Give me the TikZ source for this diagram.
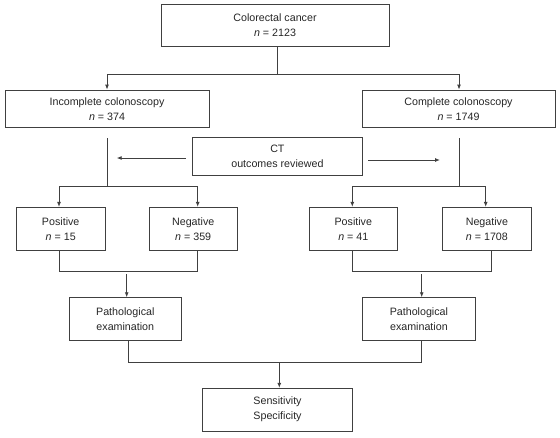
\documentclass[tikz,border=0pt]{standalone}
\usepackage{fontspec}
\setmainfont{Liberation Sans}
\usetikzlibrary{arrows.meta}
\begin{document}
\begin{tikzpicture}[x=1pt,y=-1pt,
  box/.style={draw=black!75,line width=0.9pt,rectangle,inner sep=0pt,align=center,
    text=black!85,font=\fontsize{10.7}{15}\selectfont},
  conn/.style={draw=black!75,line width=0.9pt},
  arr/.style={conn,-{Latex[length=5pt,width=4pt]}}]
\useasboundingbox (0,0) rectangle (560,437);
\node[box,minimum width=228pt,minimum height=42.7pt] (top) at (275,25.3) {Colorectal cancer\\{\itshape n} = 2123};
\node[box,minimum width=204pt,minimum height=37.3pt] (inc) at (107,108.7) {Incomplete colonoscopy\\{\itshape n} = 374};
\node[box,minimum width=193pt,minimum height=37.3pt] (com) at (458.5,108.7) {Complete colonoscopy\\{\itshape n} = 1749};
\node[box,minimum width=170.7pt,minimum height=38pt] (ct) at (277.4,156.7) {CT\\outcomes reviewed};
\node[box,minimum width=88.7pt,minimum height=42.7pt] (posL) at (60.7,228.7) {Positive\\{\itshape n} = 15};
\node[box,minimum width=88.3pt,minimum height=42.7pt] (negL) at (193.2,228.7) {Negative\\{\itshape n} = 359};
\node[box,minimum width=88pt,minimum height=42.7pt] (posR) at (353.3,228.7) {Positive\\{\itshape n} = 41};
\node[box,minimum width=88.3pt,minimum height=42.7pt] (negR) at (486.9,228.7) {Negative\\{\itshape n} = 1708};
\node[box,minimum width=112pt,minimum height=42.6pt] (pathL) at (125.3,319) {Pathological\\examination};
\node[box,minimum width=112.3pt,minimum height=42.6pt] (pathR) at (418.9,319) {Pathological\\examination};
\node[box,minimum width=149.6pt,minimum height=42.7pt] (sens) at (277.5,409.7) {Sensitivity\\Specificity};
% top split
\coordinate (j0) at (277.7,74);
\coordinate (jl) at (107,74);
\coordinate (jr) at (459,74);
\draw[conn] (top.south -| j0) -- (j0);
\draw[conn] (jl) -- (jr);
\draw[arr] (jl) -- (jl |- inc.north);
\draw[arr] (jr) -- (jr |- com.north);
% CT arrows
\coordinate (ctl) at (116.7,158);
\coordinate (ctr) at (440,160);
\draw[arr] ([xshift=-6pt]ct.west |- ctl) -- (ctl);
\draw[arr] ([xshift=5pt]ct.east |- ctr) -- (ctr);
% left branch
\coordinate (vl1) at (107,138);
\coordinate (vl2) at (107,186);
\coordinate (al1) at (59,186);
\coordinate (al2) at (197.7,186);
\draw[conn] (vl1) -- (vl2);
\draw[conn] (al1) -- (al2);
\draw[arr] (al1) -- (al1 |- posL.north);
\draw[arr] (al2) -- (al2 |- negL.north);
% right branch
\coordinate (vr1) at (459,138);
\coordinate (vr2) at (459,186);
\coordinate (ar1) at (352.3,186);
\coordinate (ar2) at (485.7,186);
\draw[conn] (vr1) -- (vr2);
\draw[conn] (ar1) -- (ar2);
\draw[arr] (ar1) -- (ar1 |- posR.north);
\draw[arr] (ar2) -- (ar2 |- negR.north);
% left join
\coordinate (bl1) at (59,271);
\coordinate (bl2) at (197.7,271);
\draw[conn] (bl1 |- posL.south) -- (bl1) -- (bl2) -- (bl2 |- negL.south);
\coordinate (pl) at (126.7,274);
\draw[arr] (pl) -- (pl |- pathL.north);
% right join
\coordinate (br1) at (352.3,271);
\coordinate (br2) at (491,271);
\draw[conn] (br1 |- posR.south) -- (br1) -- (br2) -- (br2 |- negR.south);
\coordinate (pr) at (421.7,274);
\draw[arr] (pr) -- (pr |- pathR.north);
% final join
\coordinate (fl) at (128.3,362);
\coordinate (fr) at (421.7,362);
\coordinate (fm) at (279.3,362);
\draw[conn] (fl |- pathL.south) -- (fl) -- (fr) -- (fr |- pathR.south);
\draw[arr] (fm) -- (fm |- sens.north);
\end{tikzpicture}
\end{document}
